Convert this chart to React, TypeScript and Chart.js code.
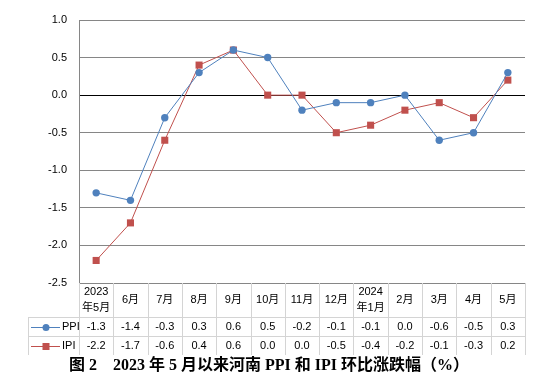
import React, { useEffect, useRef } from "react";
import { Chart, registerables } from "chart.js";

Chart.register(...registerables);

const categories: string[][] = [
  ["2023", "年5月"], ["6月"], ["7月"], ["8月"], ["9月"], ["10月"], ["11月"], ["12月"],
  ["2024", "年1月"], ["2月"], ["3月"], ["4月"], ["5月"],
];
const ppi = [-1.3, -1.4, -0.3, 0.3, 0.6, 0.5, -0.2, -0.1, -0.1, 0.0, -0.6, -0.5, 0.3];
const ipi = [-2.2, -1.7, -0.6, 0.4, 0.6, 0.0, 0.0, -0.5, -0.4, -0.2, -0.1, -0.3, 0.2];
const seriesNames = ["PPI", "IPI"];
const colors = ["#4F81BD", "#C0504D"];
const titleText = "图 2　2023 年 5 月以来河南 PPI 和 IPI 环比涨跌幅（%）";

const FONT = "'Liberation Sans', 'Noto Sans CJK SC', sans-serif";

const tablePlugin = {
  id: "dataTable",
  afterDraw(chart: any) {
    const ctx = chart.ctx as CanvasRenderingContext2D;
    const area = chart.chartArea;
    const xs = chart.scales.x;
    const n = categories.length;
    const colW = (area.right - area.left) / n;
    const top = area.bottom;
    const hdrB = top + 34;
    const r1B = hdrB + 19;
    const r2B = r1B + 19;
    const legL = 28;
    ctx.save();
    ctx.strokeStyle = "#D4D4D4";
    ctx.lineWidth = 1;
    for (let i = 0; i <= n; i++) {
      const x = Math.round(area.left + i * colW) + 0.5;
      ctx.beginPath();
      ctx.moveTo(x, top);
      ctx.lineTo(x, r2B);
      ctx.stroke();
    }
    ctx.beginPath();
    ctx.moveTo(legL + 0.5, hdrB);
    ctx.lineTo(legL + 0.5, r2B);
    ctx.stroke();
    [hdrB, r1B].forEach((y) => {
      ctx.beginPath();
      ctx.moveTo(legL, Math.round(y) + 0.5);
      ctx.lineTo(area.right, Math.round(y) + 0.5);
      ctx.stroke();
    });
    ctx.fillStyle = "#000";
    ctx.font = "11px " + FONT;
    ctx.textAlign = "center";
    ctx.textBaseline = "middle";
    categories.forEach((lab, i) => {
      const x = xs.getPixelForValue(i);
      if (lab.length === 2) {
        ctx.fillText(lab[0], x, top + 9);
        ctx.fillText(lab[1], x, top + 25);
      } else {
        ctx.fillText(lab[0], x, top + 17);
      }
    });
    const rows = [ppi, ipi];
    const rowMid = [hdrB + 9.5, r1B + 9.5];
    rows.forEach((vals, r) => {
      vals.forEach((v, i) => {
        ctx.fillStyle = "#000";
        ctx.textAlign = "center";
        ctx.fillText(v.toFixed(1), xs.getPixelForValue(i), rowMid[r]);
      });
      const y = Math.round(rowMid[r]) + 0.5;
      ctx.strokeStyle = colors[r];
      ctx.beginPath();
      ctx.moveTo(31, y);
      ctx.lineTo(60, y);
      ctx.stroke();
      ctx.fillStyle = colors[r];
      if (r === 0) {
        ctx.beginPath();
        ctx.arc(46, y, 3.5, 0, Math.PI * 2);
        ctx.fill();
      } else {
        ctx.fillRect(42.5, y - 3.5, 7, 7);
      }
      ctx.fillStyle = "#000";
      ctx.textAlign = "left";
      ctx.fillText(seriesNames[r], 62, rowMid[r]);
    });
    ctx.font = "bold 16px 'Liberation Serif', 'Noto Sans CJK SC', serif";
    ctx.textAlign = "center";
    ctx.fillStyle = "#000";
    ctx.fillText(titleText, 269, 366);
    ctx.restore();
  },
};

export default function App() {
  const ref = useRef<HTMLCanvasElement>(null);
  useEffect(() => {
    if (!ref.current) return;
    const chart = new Chart(ref.current, {
      type: "line",
      data: {
        labels: categories.map((c) => c.join("")),
        datasets: [
          {
            label: seriesNames[0],
            data: ppi,
            borderColor: colors[0],
            backgroundColor: colors[0],
            borderWidth: 1,
            pointStyle: "circle",
            pointRadius: 3.7,
            pointBorderWidth: 0,
            tension: 0,
          },
          {
            label: seriesNames[1],
            data: ipi,
            borderColor: colors[1],
            backgroundColor: colors[1],
            borderWidth: 1,
            pointStyle: "rect",
            pointRadius: 5,
            pointBorderWidth: 0,
            tension: 0,
          },
        ],
      },
      options: {
        responsive: false,
        animation: false,
        devicePixelRatio: 1,
        layout: { padding: { top: 20, bottom: 97, right: 17, left: 0 } },
        plugins: { legend: { display: false }, tooltip: { enabled: false }, title: { display: false } },
        scales: {
          x: { type: "category", display: false, offset: true },
          y: {
            min: -2.5,
            max: 1.0,
            afterFit: (s: any) => { s.width = 79; },
            ticks: {
              stepSize: 0.5,
              padding: 12,
              color: "#000",
              font: { family: FONT, size: 11 },
              callback: (v: any) => Number(v).toFixed(1),
            },
            grid: {
              drawTicks: false,
              color: (c: any) => (c.tick && c.tick.value === 0 ? "#000000" : "#868686"),
            },
            border: { color: "#868686" },
          },
        },
      },
      plugins: [tablePlugin],
    });
    return () => chart.destroy();
  }, []);
  return (
    <div style={{ position: "fixed", left: 0, top: 0, width: 542, height: 380, background: "#fff" }}>
      <canvas ref={ref} width={542} height={380} />
    </div>
  );
}
